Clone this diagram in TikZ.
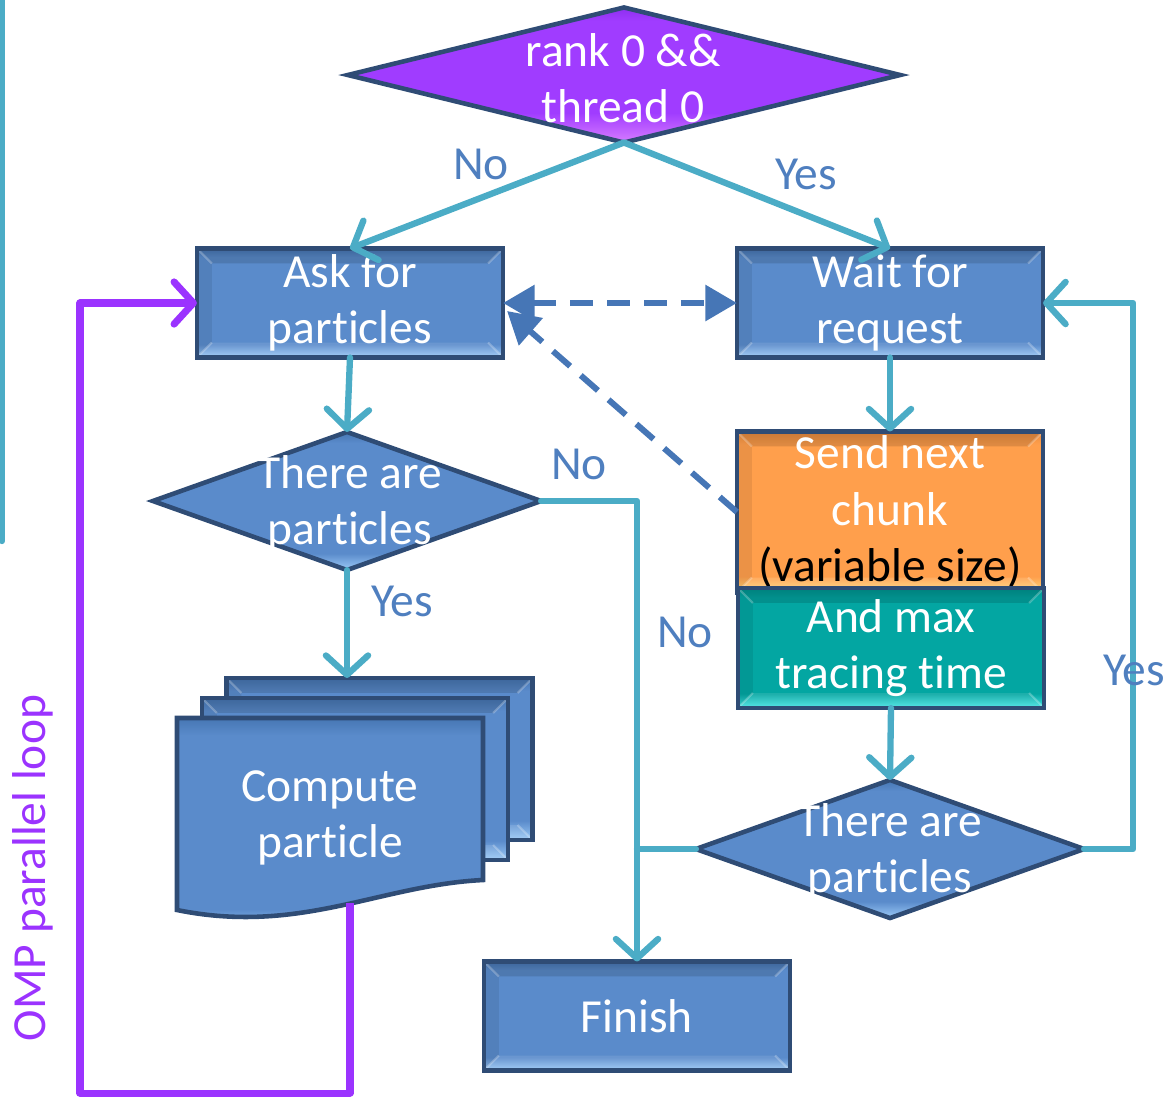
\documentclass[tikz,border=0pt]{standalone}
\usepackage{fontspec}
\setmainfont{Carlito}[Ligatures=NoCommon]
\usepackage{tikz}
\usetikzlibrary{arrows.meta}
\usetikzlibrary{shapes.geometric}
\usetikzlibrary{calc}

\definecolor{flow}{HTML}{4BACC6}
\definecolor{msgblue}{HTML}{4676B6}
\definecolor{lblblue}{HTML}{4F7FBF}
\definecolor{omp}{HTML}{9B33FF}
\definecolor{boxline}{HTML}{2F4C75}
\definecolor{boxtop}{HTML}{4676B3}
\definecolor{boxmid}{HTML}{5A8BCB}
\definecolor{boxlow}{HTML}{9CCAF7}
\definecolor{purtop}{HTML}{8E2EF0}
\definecolor{purmid}{HTML}{A03CFF}
\definecolor{purlow}{HTML}{D77CFF}
\definecolor{ortop}{HTML}{E88A3E}
\definecolor{ormid}{HTML}{FF9F4C}
\definecolor{orlow}{HTML}{FFDC80}
\definecolor{tltop}{HTML}{009490}
\definecolor{tlmid}{HTML}{03A6A2}
\definecolor{tllow}{HTML}{45E6E6}

% face shadings: dark rim on top, light strip at the bottom
\pgfdeclareverticalshading{blueface}{100bp}{color(0bp)=(boxlow); color(25bp)=(boxlow); color(31bp)=(boxmid); color(71bp)=(boxmid); color(75bp)=(boxtop); color(100bp)=(boxtop)}
\pgfdeclareverticalshading{purpleface}{100bp}{color(0bp)=(purlow); color(25bp)=(purlow); color(36bp)=(purmid); color(70bp)=(purmid); color(75bp)=(purtop); color(100bp)=(purtop)}
\pgfdeclareverticalshading{orangeface}{100bp}{color(0bp)=(orlow); color(25bp)=(orlow); color(30bp)=(ormid); color(71bp)=(ormid); color(75bp)=(ortop); color(100bp)=(ortop)}
\pgfdeclareverticalshading{tealface}{100bp}{color(0bp)=(tllow); color(25bp)=(tllow); color(31bp)=(tlmid); color(71bp)=(tlmid); color(75bp)=(tltop); color(100bp)=(tltop)}

\begin{document}
\begin{tikzpicture}
	[x=0.01cm, y=-0.01cm,
	every node/.style={font=\fontsize{13.5}{16}\selectfont, align=center, inner sep=0pt, outer sep=0pt},
	bevel/.style={path picture={
		\coordinate (bnw) at (path picture bounding box.north west);
		\coordinate (bne) at (path picture bounding box.north east);
		\coordinate (bsw) at (path picture bounding box.south west);
		\coordinate (bse) at (path picture bounding box.south east);
		\fill[black, opacity=0.13] (bnw) -- (bne) -- ($(bne)+(-15,15)$) -- ($(bnw)+(15,15)$) -- cycle;
		\fill[black, opacity=0.08] (bnw) -- ($(bnw)+(15,15)$) -- ($(bsw)+(15,-15)$) -- (bsw) -- cycle;
		\fill[white, opacity=0.10] (bsw) -- (bse) -- ($(bse)+(-15,-15)$) -- ($(bsw)+(15,-15)$) -- cycle;
		\draw[white, opacity=0.25, line width=0.6pt] ($(bnw)+(15,15)$) -- (bnw) ($(bne)+(-15,15)$) -- (bne)
			($(bsw)+(15,-15)$) -- (bsw) ($(bse)+(-15,-15)$) -- (bse);}},
	box/.style={rectangle, draw=boxline, line width=1.3pt, shade, shading=blueface, bevel, minimum width=3.06cm, minimum height=1.09cm, text=white},
	dia/.style={diamond, draw=boxline, line width=1.3pt, shade, shading=blueface, minimum width=3.88cm, minimum height=1.38cm},
	txt/.style={text=white},
	lbl/.style={text=lblblue},
	flowline/.style={draw=flow, line width=1.8pt, line cap=round, line join=round},
	flowarrow/.style={flowline, -{Straight Barb[round, length=5.5pt, width=12pt]}},
	msg/.style={draw=msgblue, line width=1.7pt, dash pattern=on 6.5pt off 4pt},
	loop/.style={draw=omp, line width=2pt, line join=round, -{Straight Barb[round, length=5.5pt, width=12pt]}}]
	\useasboundingbox (0,0) rectangle (1166,1099);

	% decisions and steps
	\node[dia, shading=purpleface, minimum width=5.52cm, minimum height=1.35cm] (root) at (624,75) {};
	\node[txt] (roottext) at (623,78) {rank 0 \&\&\\thread 0};
	\node[box] (ask) at (350,303) {Ask for\\particles};
	\node[box] (wait) at (890,303) {Wait for\\request};
	\node[dia] (ldia) at (347,501) {};
	\node[txt] (ldiatext) at (350,504) {There are\\particles};
	\node[box, shading=orangeface, minimum height=1.61cm] (send) at (890,512) {Send next\\chunk\\\textcolor{black}{(variable size)}};
	\node[box, shading=tealface, minimum height=1.2cm] (trace) at (891,648) {And max\\tracing time};
	\node[dia] (rdia) at (890,849) {};
	\node[txt] (rdiatext) at (890,852) {There are\\particles};
	\node[box] (finish) at (637,1016) {Finish};

	% stack of documents
	\node[box, minimum height=1.62cm] (page3) at (379.5,759) {};
	\node[box, minimum height=1.62cm] (page2) at (355,779) {};
	\draw[draw=boxline, line width=1.3pt, shade, shading=blueface] (177,718) -- (483,718) -- (483,880)
		.. controls (380,885) and (300,935) .. (177,910) -- cycle;
	\coordinate (docout) at (350,903);
	\node[txt] (compute) at (330,818) {Compute\\particle};

	% flow
	\draw[flowline] (2,-10) -- (2,541);
	\draw[flowarrow] (root.south) -- (ask.north);
	\draw[flowarrow] (root.south) -- (wait.north);
	\draw[flowarrow] (ask.south) -- (ldia.north);
	\draw[flowarrow] (ldia.south) -- (ldia.south |- page3.north);
	\draw[flowarrow] (ldia.east) -| (finish.north);
	\draw[flowarrow] (wait.south) -- (send.north);
	\draw[flowarrow] (trace.south) -- (rdia.north);
	\draw[flowline] (rdia.west) -- (rdia.west -| finish.north);
	\draw[flowarrow] (rdia.east) -- ++(49,0) |- (wait.east);
	\draw[msg, {Triangle[length=9pt, width=10pt]}-{Triangle[length=9pt, width=10pt]}] (ask.east) -- (wait.west);
	\draw[msg, -{Triangle[length=9pt, width=10pt]}] (send.west) -- ($(ask.east)+(4,8)$);
	\draw[loop] (docout) |- (80,1093) |- (ask.west);

	% branch labels
	\node[lbl] (no1) at (481,164) {No};
	\node[lbl] (yes1) at (806,174) {Yes};
	\node[lbl] (no2) at (579,464) {No};
	\node[lbl] (yes2) at (402,601) {Yes};
	\node[lbl] (no3) at (685,632) {No};
	\node[lbl] (yes3) at (1134,670) {Yes};
	\node[lbl, text=omp, rotate=90] (ompl) at (33,868) {OMP parallel loop};
\end{tikzpicture}
\end{document}
